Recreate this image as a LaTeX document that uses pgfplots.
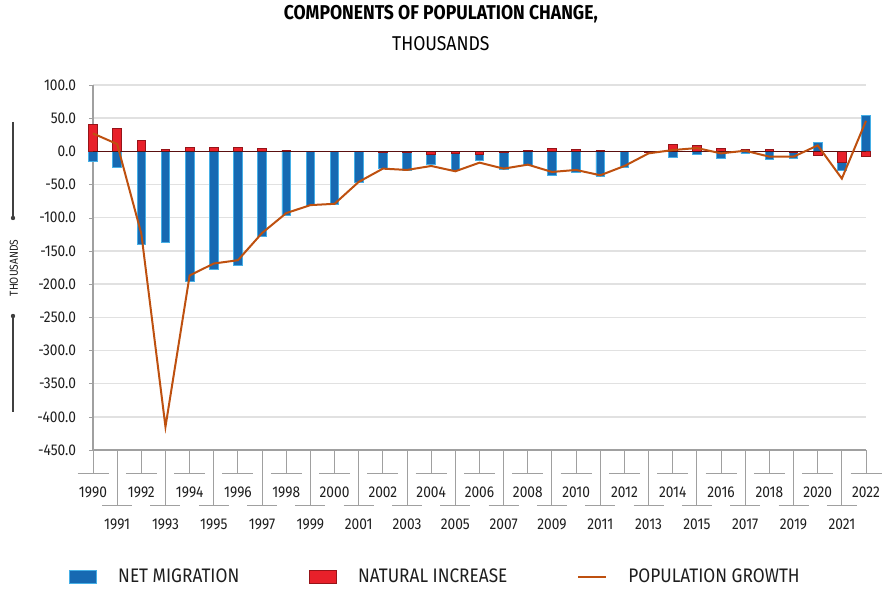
\documentclass[border=0pt]{standalone}
\usepackage{fontspec}
\setmainfont{Fira Sans}[FakeStretch=0.88]
\usepackage{pgfplots}
\usepackage{pgfplotstable}
\pgfplotsset{compat=1.18}
\definecolor{nmblue}{RGB}{23,105,178}
\definecolor{nmedge}{RGB}{70,175,230}
\definecolor{nired}{RGB}{232,32,42}
\definecolor{niedge}{RGB}{150,20,25}
\definecolor{pgline}{RGB}{190,80,15}
\definecolor{gridgray}{RGB}{225,225,225}
\definecolor{axgray}{RGB}{160,160,160}
\definecolor{zeroline}{RGB}{90,15,15}
\definecolor{txt}{RGB}{30,30,30}
\pgfplotsset{
  barleg/.style={legend image code/.code={\draw[##1] (0pt,-3.25pt) rectangle (13.5pt,3.25pt);}},
  lineleg/.style={legend image code/.code={\draw[##1] (0pt,0pt) -- (14pt,0pt);}},
}

\pgfplotstableread{
x nm ni pg
0 -15 41 27
1 -24 35 11
2 -140 16 -124
3 -137 3 -415
4 -196 5.5 -187
5 -178 5.5 -169
6 -172 5.5 -164
7 -128 5 -123
8 -97 2 -93
9 -81 0.5 -81
10 -80 0 -79
11 -47 0 -46
12 -25 -1 -26
13 -29 -1 -28
14 -19 -4 -22
15 -28 -3 -30
16 -13.5 -5 -17
17 -27 -1 -26
18 -21 1 -20
19 -36 4.5 -31
20 -32 2.5 -28
21 -37 1 -36
22 -24 0.5 -22
23 -2 -1 -3
24 -8.5 10 2
25 -5 8.5 5
26 -10 4 -3
27 -3.5 3.5 1
28 -12.5 3 -8
29 -10 -1 -8
30 14 -6 9
31 -28 -16 -41
32 54 -8 46
}\datatable

\begin{document}
\begin{tikzpicture}
\useasboundingbox (-46.5pt,-75pt) rectangle (396.5pt,225pt);
\begin{axis}[
  at={(0,0)}, anchor=south west,
  scale only axis, width=386.5pt, height=182.5pt,
  xmin=0, xmax=32, ymin=-450, ymax=100,
  clip=false,
  axis lines=left,
  axis line style={-, axgray, line width=0.6pt},
  ytick={-450,-400,...,100},
  ymajorgrids,
  major grid style={gridgray, line width=0.7pt},
  /pgf/number format/assume math mode=true,
  yticklabel style={/pgf/number format/fixed, /pgf/number format/fixed zerofill, /pgf/number format/precision=1, font=\fontsize{7.8}{9}\selectfont, text=txt, xshift=-3pt},
  ytick style={axgray},
  tick align=outside,
  major tick length=2pt,
  xtick={0,2,...,32},
  xticklabels={1990,1992,1994,1996,1998,2000,2002,2004,2006,2008,2010,2012,2014,2016,2018,2020,2022},
  xtick style={draw=none},
  xticklabel style={anchor=center, yshift=-19pt, font=\fontsize{7.8}{9}\selectfont, text=txt},
  extra x ticks={1,3,...,31},
  extra x tick labels={1991,1993,1995,1997,1999,2001,2003,2005,2007,2009,2011,2013,2015,2017,2019,2021},
  extra x tick style={xtick style={draw=none}, xticklabel style={yshift=-16pt}},
  ylabel={THOUSANDS},
  ylabel style={at={(axis description cs:-0.1022,0.4986)}, anchor=center, font=\fontsize{5.8}{7}\selectfont, text=txt},
  title={\textbf{COMPONENTS OF POPULATION CHANGE,}\\THOUSANDS},
  title style={at={(axis description cs:0.450,1)}, anchor=center, yshift=22.25pt, align=center, font=\fontsize{10}{15.5}\selectfont, text=black},
  legend columns=3,
  legend style={at={(-0.031,-0.348)}, anchor=west, draw=none, fill=none, inner sep=0pt,
    font=\fontsize{9.8}{11}\selectfont, text=txt,
    /tikz/every odd column/.style={column sep=8.5pt},
    /tikz/every even column/.style={column sep=33pt}},
  legend cell align=left,
]
\addplot[ybar, bar width=4.3pt, bar shift=0pt, fill=nmblue, draw=nmedge, line width=0.4pt, barleg]
  table[x=x,y=nm]{\datatable};
\addlegendentry{NET MIGRATION}
\addplot[ybar, bar width=4.3pt, bar shift=0pt, fill=nired, draw=niedge, line width=0.4pt, barleg]
  table[x=x,y=ni]{\datatable};
\addlegendentry{NATURAL INCREASE}
\addplot[zeroline, line width=0.7pt, forget plot] coordinates {(0,0) (32,0)};
\addplot[pgline, line width=1pt, mark=none, lineleg]
  table[x=x,y=pg]{\datatable};
\addlegendentry{POPULATION GROWTH}
\end{axis}
\foreach \i in {0,2,...,32} {
  \draw[axgray, line width=0.5pt] ({\i*12.078125pt},0pt) -- ({\i*12.078125pt},-11.7pt)
    ({\i*12.078125pt-7.75pt},-11.7pt) -- ({\i*12.078125pt+7.75pt},-11.7pt);
}
\foreach \i in {1,3,...,31} {
  \draw[axgray, line width=0.5pt] ({\i*12.078125pt},0pt) -- ({\i*12.078125pt},-27.5pt)
    ({\i*12.078125pt-7.5pt},-27.5pt) -- ({\i*12.078125pt+7.5pt},-27.5pt);
}
\draw[black!75, line width=0.6pt] (-40pt,164pt) -- (-40pt,116pt);
\fill[black!75] (-40pt,116pt) circle (1.1pt);
\draw[black!75, line width=0.6pt] (-40pt,67pt) -- (-40pt,19pt);
\fill[black!75] (-40pt,67pt) circle (1.1pt);
\end{tikzpicture}
\end{document}
